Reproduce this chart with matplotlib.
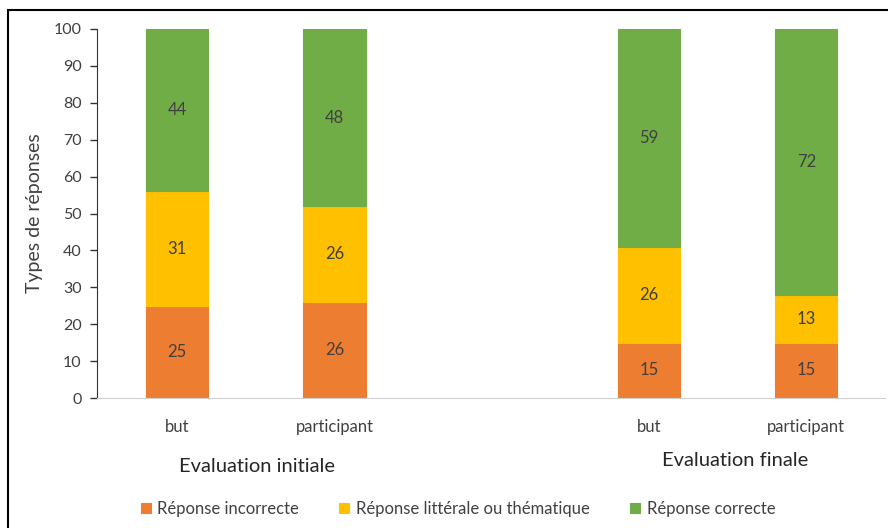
import numpy as np
import matplotlib.pyplot as plt
from matplotlib.patches import Rectangle

# %%
categories = ['but', 'participant', 'but', 'participant']
groups = ['Evaluation initiale', 'Evaluation finale']
incorrecte = [25, 26, 15, 15]
litterale = [31, 26, 26, 13]
correcte = [44, 48, 59, 72]
series_names = ['Réponse incorrecte', 'Réponse littérale ou thématique', 'Réponse correcte']
colors = ['#ED7D31', '#FFC000', '#70AD47']

# %%
plt.rcParams['font.family'] = ['Lato', 'DejaVu Sans']
txt = '#404040'

fig = plt.figure(figsize=(8.88, 5.28), dpi=100)
ax = fig.add_axes([97 / 888, 1 - 398 / 528, (885 - 97) / 888, (398 - 29) / 528])

x = np.array([0, 1, 3, 4])
w = 0.395
bottom = np.zeros(4)
for vals, name, c in zip([incorrecte, litterale, correcte], series_names, colors):
    vals = np.array(vals)
    bars = ax.bar(x, vals, w, bottom=bottom, color=c, label=name,
                  edgecolor=c, linewidth=0.8)
    for xi, b, v in zip(x, bottom, vals):
        ax.text(xi, b + v / 2, str(v), ha='center', va='center', fontsize=12, color=txt)
    bottom = bottom + vals

ax.set_xlim(-0.51, 4.5)
ax.set_ylim(0, 100)
ax.set_yticks(np.arange(0, 101, 10))
ax.set_xticks(x)
ax.set_xticklabels(categories)
ax.tick_params(axis='x', length=0, pad=15, labelsize=12, labelcolor=txt)
ax.tick_params(axis='y', length=5, width=1, direction='out', labelsize=11.5,
               labelcolor=txt, pad=6, color='#333333')
for s in ['top', 'right']:
    ax.spines[s].set_visible(False)
ax.spines['left'].set_color('#333333')
ax.spines['bottom'].set_color('#D0D0D0')
ax.set_ylabel('Types de réponses', fontsize=14, color=txt, labelpad=8)

# group labels
fig.text(257 / 888, 1 - 467 / 528, groups[0], ha='center', va='center', fontsize=14.5, color='#262626')
fig.text(735 / 888, 1 - 461 / 528, groups[1], ha='center', va='center', fontsize=14.5, color='#262626')

leg = fig.legend(loc='center', bbox_to_anchor=(458 / 888, 1 - 509 / 528), ncol=3,
                 frameon=False, fontsize=12, handlelength=0.6, handleheight=0.6,
                 handletextpad=0.4, columnspacing=2.4)
for t in leg.get_texts():
    t.set_color(txt)

# frame around the chart
fig.patches.append(Rectangle((8 / 888, -0.05), 1.2, 1 - 10 / 528 + 0.05, transform=fig.transFigure,
                             fill=False, edgecolor='black', linewidth=1.5))

fig.savefig('out.png', dpi=100)
